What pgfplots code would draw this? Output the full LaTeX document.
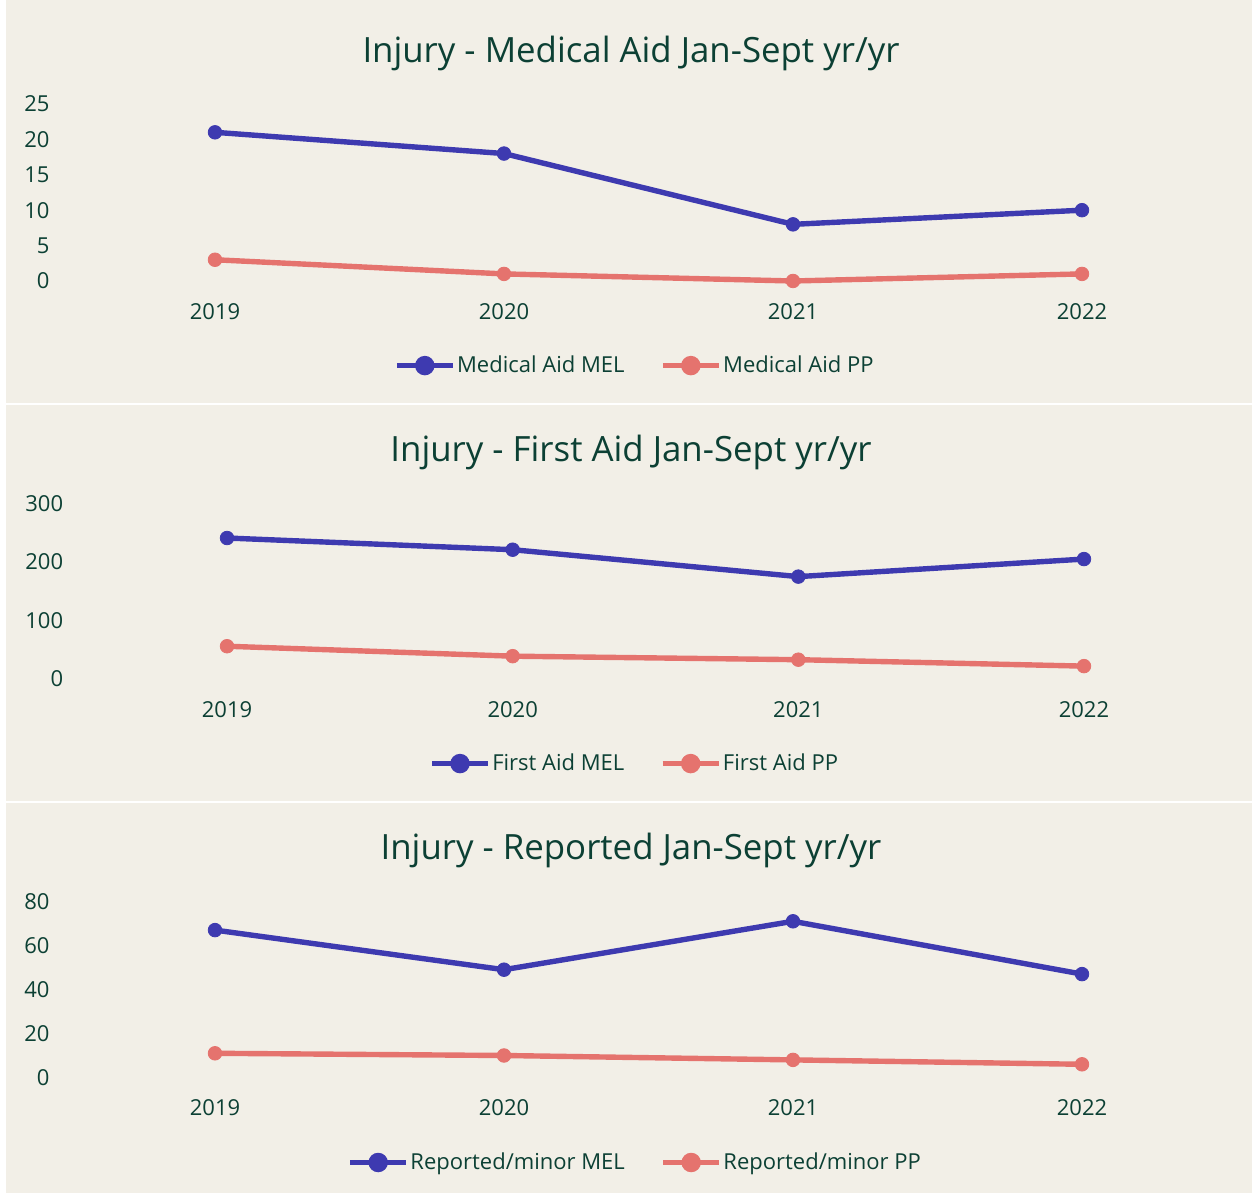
\documentclass[border=0pt]{standalone}
\usepackage{pgfplots}
\pgfplotsset{compat=1.18}
\usepackage{fontspec}
\setmainfont{Open Sans}
\definecolor{bgc}{RGB}{242,239,231}
\definecolor{txt}{RGB}{12,64,52}
\definecolor{melc}{RGB}{62,58,176}
\definecolor{ppc}{RGB}{229,115,110}
\pgfplotsset{
  panel/.style={
    scale only axis, clip=false,
    xmin=-0.5, xmax=3.5, ymin=0,
    xtick={0,1,2,3}, xticklabels={2019,2020,2021,2022},
    axis line style={draw=none}, tick style={draw=none}, major tick length=0pt,
    /pgf/number format/assume math mode=true,
    ticklabel style={font=\fontsize{11}{13}\selectfont, text=txt},
    yticklabel style={anchor=east, xshift=-7pt},
    xticklabel style={anchor=north, yshift=-7.5pt},
    legend columns=2,
    legend cell align=left,
    legend style={draw=none, fill=none, font=\fontsize{11}{13}\selectfont, text=txt,
      nodes={inner sep=0.8pt},
      /tikz/every even column/.append style={column sep=17pt}},
    legend image code/.code={
      \draw[##1, line width=2.7pt, mark=none] (0pt,0pt) -- (28pt,0pt);
      \fill[##1] (14pt,0pt) circle (3.5pt);
    },
  },
  mel/.style={color=melc, line width=2.7pt, mark=*, mark size=3.4pt, mark options={line width=0.4pt, fill=melc, draw=melc}},
  pp/.style={color=ppc, line width=2.7pt, mark=*, mark size=3.4pt, mark options={line width=0.4pt, fill=ppc, draw=ppc}},
}
\begin{document}
\begin{tikzpicture}[x=0.5pt,y=0.5pt]
\fill[white] (0,0) rectangle (1254,1195);
\fill[bgc] (6,792) rectangle (1252,1195);
\fill[bgc] (6,394) rectangle (1252,790);
\fill[bgc] (6,2) rectangle (1252,392);
\node[text=txt, font=\fontsize{17.4}{20}\selectfont] at (631,1142) {Injury - Medical Aid Jan-Sept yr/yr};
\node[text=txt, font=\fontsize{17.4}{20}\selectfont] at (631,743) {Injury - First Aid Jan-Sept yr/yr};
\node[text=txt, font=\fontsize{17.4}{20}\selectfont] at (631,345) {Injury - Reported Jan-Sept yr/yr};

\begin{axis}[panel, at={(35.25pt,457pt)}, anchor=south west, width=578pt, height=88.5pt,
  ymax=25, ytick={0,5,10,15,20,25},
  legend style={at={(0.488,-0.478)}, anchor=center}]
\addplot[mel] coordinates {(0,21) (1,18) (2,8) (3,10)};
\addlegendentry{Medical Aid MEL}
\addplot[pp] coordinates {(0,3) (1,1) (2,0) (3,1)};
\addlegendentry{Medical Aid PP}
\end{axis}

\begin{axis}[panel, at={(42.1pt,258pt)}, anchor=south west, width=571.3pt, height=87.75pt,
  ymax=300, ytick={0,100,200,300},
  legend style={at={(0.4816,-0.482)}, anchor=center}]
\addplot[mel] coordinates {(0,241) (1,221) (2,175) (3,205)};
\addlegendentry{First Aid MEL}
\addplot[pp] coordinates {(0,56) (1,39) (2,33) (3,22)};
\addlegendentry{First Aid PP}
\end{axis}

\begin{axis}[panel, at={(35.25pt,58.75pt)}, anchor=south west, width=578pt, height=88pt,
  ymax=80, ytick={0,20,40,60,80},
  legend style={at={(0.4883,-0.483)}, anchor=center}]
\addplot[mel] coordinates {(0,67) (1,49) (2,71) (3,47)};
\addlegendentry{Reported/minor MEL}
\addplot[pp] coordinates {(0,11) (1,10) (2,8) (3,6)};
\addlegendentry{Reported/minor PP}
\end{axis}
\pgfresetboundingbox
\useasboundingbox (0,0) rectangle (1254,1195);
\end{tikzpicture}
\end{document}
